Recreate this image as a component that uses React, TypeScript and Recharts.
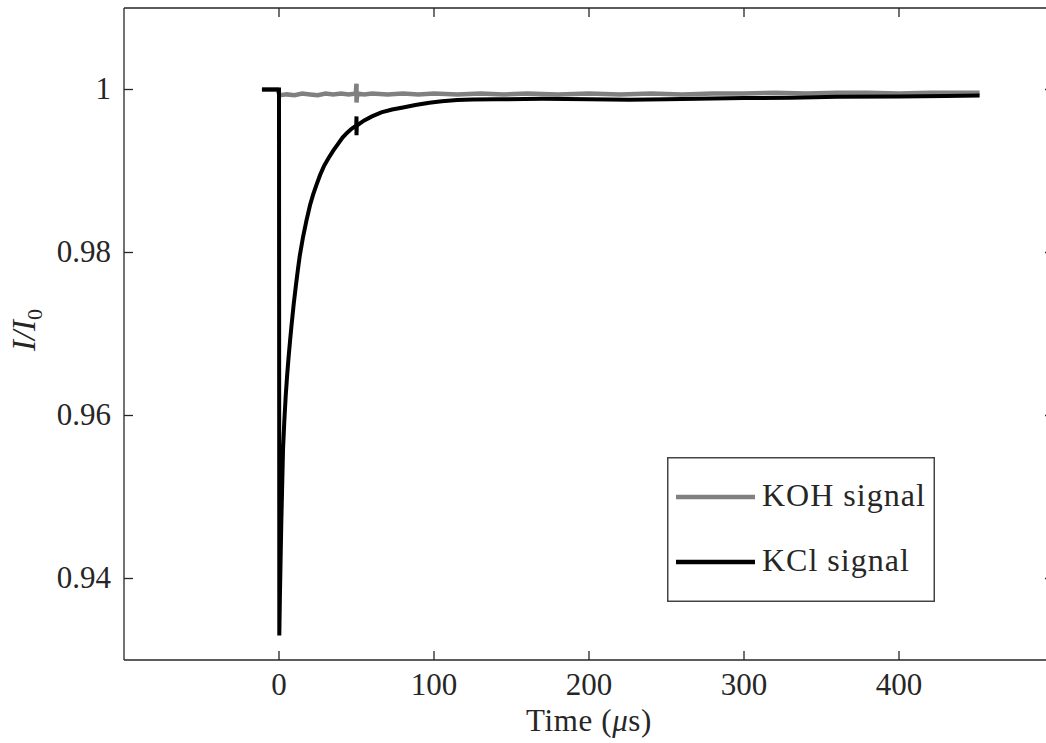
import React from "react";
import { LineChart, Line, XAxis, YAxis, Legend } from "recharts";

const X_TICKS = [0, 100, 200, 300, 400];
const Y_TICKS = [0.94, 0.96, 0.98, 1];
const X_DOMAIN = [-100, 500];
const Y_DOMAIN = [0.93, 1.01];

const KOH_TIME = [-11, -5, -1, 0, 1, 5, 10, 15, 20, 25, 30, 35, 40, 45, 49.5, 50, 50, 50.5, 55, 60, 70, 80, 90, 100, 115, 130, 145, 160, 180, 200, 220, 240, 260, 280, 300, 320, 340, 360, 380, 400, 420, 440, 452];
const KOH_VALUES = [1.0, 1.0, 1.0, 0.9995, 0.9993, 0.9994, 0.9993, 0.9995, 0.9994, 0.9993, 0.9995, 0.9994, 0.9995, 0.9994, 0.9995, 1.0007, 0.9984, 0.9995, 0.9994, 0.9995, 0.9994, 0.9995, 0.9994, 0.9995, 0.9994, 0.9995, 0.9994, 0.9995, 0.9994, 0.9995, 0.9994, 0.9995, 0.9994, 0.9995, 0.9995, 0.9996, 0.9995, 0.9996, 0.9996, 0.9995, 0.9996, 0.9996, 0.9996];

const KCL_TIME = [-11, 0, 0.2, 0.6, 1, 1.5, 2, 2.6, 3.4, 4.3, 5.2, 6.2, 7.1, 8, 9.5, 11, 12.2, 13.4, 15.5, 17.7, 20, 22, 24, 26.5, 29, 32, 35, 38, 41, 44, 47, 49.8, 50, 50, 50.2, 55, 60, 66, 73, 80, 88, 97, 105, 115, 125, 140, 170, 200, 226, 250, 280, 300, 330, 360, 400, 430, 452];
const KCL_VALUES = [1.0, 1.0, 0.933, 0.938, 0.942, 0.947, 0.951, 0.9558, 0.9592, 0.9623, 0.9648, 0.9672, 0.9691, 0.9709, 0.9737, 0.9761, 0.9779, 0.9796, 0.9819, 0.9839, 0.9858, 0.9871, 0.9882, 0.9895, 0.9906, 0.9916, 0.9925, 0.9933, 0.9941, 0.9947, 0.9952, 0.99555, 0.9967, 0.9944, 0.99557, 0.9962, 0.9967, 0.9972, 0.99755, 0.9978, 0.9981, 0.99837, 0.99857, 0.9987, 0.99878, 0.9988, 0.99885, 0.9988, 0.99875, 0.9988, 0.9989, 0.99895, 0.999, 0.9991, 0.99915, 0.9992, 0.99925];

const SERIES_NAMES = ["KOH signal", "KCl signal"];

const kohData = KOH_TIME.map((t, i) => ({ t, v: KOH_VALUES[i] }));
const kclData = KCL_TIME.map((t, i) => ({ t, v: KCL_VALUES[i] }));

const FONT = "'Liberation Serif', 'DejaVu Serif', serif";
const INK = "#262626";
const FS = 31;
const TICK_LEN = 9;
const MARGIN_TOP = 8;
const PLOT_LEFT = 124;
const PLOT_W = 930;
const PLOT_H = 652;
const AX_W = 1.3;

const BottomTick = (props: any) => {
  const { x, y, payload } = props;
  const axisY = y - 35;
  return (
    <g>
      <line x1={x} x2={x} y1={axisY} y2={axisY - TICK_LEN} stroke={INK} strokeWidth={AX_W} />
      <text x={x} y={y} textAnchor="middle" fontFamily={FONT} fontSize={FS} fill={INK}>
        {payload.value}
      </text>
    </g>
  );
};

const LeftTick = (props: any) => {
  const { x, y, payload } = props;
  const axisX = x + 13;
  return (
    <g>
      <line x1={axisX} x2={axisX + TICK_LEN} y1={y} y2={y} stroke={INK} strokeWidth={AX_W} />
      <text x={x} y={y + 9} textAnchor="end" fontFamily={FONT} fontSize={FS} fill={INK}>
        {String(payload.value)}
      </text>
    </g>
  );
};

const XLabel = (props: any) => {
  const vb = props.viewBox || {};
  return (
    <text x={vb.x + vb.width / 2} y={vb.y + 71} textAnchor="middle" fontFamily={FONT} fontSize={FS} fill={INK} letterSpacing={0.6}>
      Time (<tspan fontStyle="italic">μ</tspan>s)
    </text>
  );
};

const YLabel = (props: any) => {
  const vb = props.viewBox || {};
  const cx = vb.x + 35;
  const cy = vb.y + vb.height / 2 - 4;
  return (
    <text
      x={cx}
      y={cy}
      transform={`rotate(-90 ${cx} ${cy})`}
      textAnchor="middle"
      fontFamily={FONT}
      fontSize={FS + 2}
      fill={INK}
      fontStyle="italic"
    >
      I/I<tspan fontStyle="normal" fontSize={22} dy={7}>0</tspan>
    </text>
  );
};

const LegendBox = (props: any) => {
  const payload = (props.payload || [])
    .filter((p: any) => SERIES_NAMES.includes(p.value))
    .sort((a: any, b: any) => SERIES_NAMES.indexOf(a.value) - SERIES_NAMES.indexOf(b.value));
  return (
    <svg width={268} height={145} style={{ display: "block" }}>
      <rect x={0.75} y={0.75} width={266.5} height={143.5} fill="#fff" stroke="#444" strokeWidth={1.5} />
      {payload.map((p: any, i: number) => {
        const ly = 40 + i * 65;
        return (
          <g key={i}>
            <line x1={9} x2={88} y1={ly} y2={ly} stroke={p.color} strokeWidth={4.5} />
            <text x={95} y={ly + 9} fontFamily={FONT} fontSize={FS + 1} fill={INK} letterSpacing={1}>
              {p.value}
            </text>
          </g>
        );
      })}
    </svg>
  );
};

// Mirrored frame (top and right edges of the box, with inward ticks), placed from the axis domains.
const toPxX = (t: number) => PLOT_LEFT + ((t - X_DOMAIN[0]) / (X_DOMAIN[1] - X_DOMAIN[0])) * PLOT_W;
const toPxY = (v: number) => MARGIN_TOP + ((Y_DOMAIN[1] - v) / (Y_DOMAIN[1] - Y_DOMAIN[0])) * PLOT_H;

const FrameOverlay = () => (
  <svg
    width={1060}
    height={743}
    style={{ position: "absolute", left: 0, top: 0, zIndex: 5, pointerEvents: "none", overflow: "visible" }}
  >
    <path
      d={`M${PLOT_LEFT},${MARGIN_TOP}L${PLOT_LEFT + PLOT_W},${MARGIN_TOP}L${PLOT_LEFT + PLOT_W},${MARGIN_TOP + PLOT_H}`}
      stroke={INK}
      strokeWidth={AX_W}
      fill="none"
    />
    {X_TICKS.map((t) => (
      <line key={`tx${t}`} x1={toPxX(t)} x2={toPxX(t)} y1={MARGIN_TOP} y2={MARGIN_TOP + TICK_LEN} stroke={INK} strokeWidth={AX_W} />
    ))}
    {Y_TICKS.map((v) => (
      <line
        key={`ty${v}`}
        x1={PLOT_LEFT + PLOT_W}
        x2={PLOT_LEFT + PLOT_W - TICK_LEN}
        y1={toPxY(v)}
        y2={toPxY(v)}
        stroke={INK}
        strokeWidth={AX_W}
      />
    ))}
  </svg>
);

export default function App() {
  return (
    <div style={{ position: "absolute", left: 0, top: 0, width: 1046, height: 743, overflow: "hidden", background: "#fff" }}>
      <LineChart width={1060} height={743} margin={{ top: MARGIN_TOP, right: 6, bottom: 0, left: 0 }}>
        <XAxis
          xAxisId="x"
          dataKey="t"
          type="number"
          domain={X_DOMAIN}
          ticks={X_TICKS}
          allowDataOverflow
          height={83}
          tickSize={0}
          tickMargin={35}
          tickLine={false}
          axisLine={{ stroke: INK, strokeWidth: AX_W }}
          tick={<BottomTick />}
          interval={0}
          label={<XLabel />}
        />
        <YAxis
          yAxisId="y"
          type="number"
          domain={Y_DOMAIN}
          ticks={Y_TICKS}
          allowDataOverflow
          width={124}
          tickSize={0}
          tickMargin={13}
          tickLine={false}
          axisLine={{ stroke: INK, strokeWidth: AX_W }}
          tick={<LeftTick />}
          interval={0}
          label={<YLabel />}
        />
        <Legend
          layout="vertical"
          align="center"
          verticalAlign="middle"
          content={<LegendBox />}
          wrapperStyle={{ position: "absolute", left: 667, top: 457, width: 268, height: 145 }}
        />
        <Line
          xAxisId="x"
          yAxisId="y"
          data={kohData}
          dataKey="v"
          name={SERIES_NAMES[0]}
          stroke="#808080"
          strokeWidth={4.5}
          dot={false}
          activeDot={false}
          type="linear"
          isAnimationActive={false}
        />
        <Line
          xAxisId="x"
          yAxisId="y"
          data={kclData}
          dataKey="v"
          name={SERIES_NAMES[1]}
          stroke="#000000"
          strokeWidth={4}
          dot={false}
          activeDot={false}
          type="linear"
          isAnimationActive={false}
        />
      </LineChart>
      <FrameOverlay />
    </div>
  );
}
